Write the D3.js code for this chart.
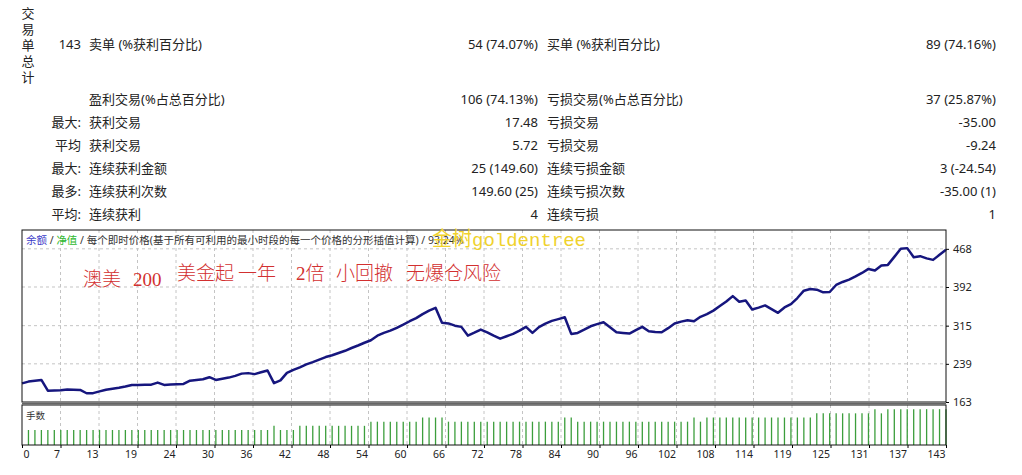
<!DOCTYPE html>
<html>
<head>
<meta charset="utf-8">
<script src="https://cdn.jsdelivr.net/npm/d3@7"></script>
<style>
  body { margin: 0; background: #fff; }
  svg text { font-family: "Noto Sans", "Noto Sans CJK SC", sans-serif; }
</style>
</head>
<body>
<div id="chart"></div>
<script>
// balance after each trade (index 0 = deposit)
var balance = [
  200, 203.6, 205.2, 207, 185.6, 185.8, 186.2, 187.7, 187.4, 187,
  180.4, 180.6, 184.2, 187.5, 189.6, 191.5, 193.7, 197, 196.8, 197.2,
  197.5, 201.7, 197, 197.8, 198.4, 199, 205.5, 207, 208.4, 212.4,
  207, 209.2, 211.6, 215, 219.5, 220.5, 218.5, 222.2, 225.7, 200.5,
  206, 221, 227, 232, 238, 242.5, 247.5, 252.5, 256, 260.5,
  265, 270.5, 275.5, 281, 286, 295, 300.6, 305, 310.6, 317,
  323.8, 330, 338, 345, 350.6, 320.6, 319.5, 315, 312.6, 295.2,
  301, 307.2, 301.8, 295, 289.2, 294, 298.6, 305, 312.6, 300.6,
  312, 319, 324.5, 328, 331.8, 298.6, 300.6, 307, 313.8, 318,
  321.8, 312, 301.8, 300.5, 299.2, 306, 312.6, 303.8, 302.5, 301.8,
  310, 319.2, 323, 325.8, 323.8, 332.6, 338, 345, 354, 363,
  373.9, 362.7, 365.3, 347.2, 351, 355.3, 348, 340.6, 351.3, 357.9,
  370, 384.7, 388, 386.7, 381.3, 382, 396, 402, 406.7, 413,
  420, 428, 424.8, 434.8, 436, 452, 468, 469.4, 451.4, 453.4,
  449, 446, 456, 466
];

// lot size of trades 1..143
var lots = [
  0.04, 0.04, 0.04, 0.04, 0.04, 0.04, 0.04, 0.04, 0.04, 0.04,
  0.04, 0.04, 0.04, 0.04, 0.04, 0.04, 0.04, 0.04, 0.04, 0.04,
  0.04, 0.04, 0.04, 0.04, 0.04, 0.04, 0.04, 0.04, 0.04, 0.04,
  0.04, 0.04, 0.04, 0.04, 0.04, 0.04, 0.04, 0.04, 0.05, 0.04,
  0.04, 0.04, 0.05, 0.05, 0.05, 0.05, 0.05, 0.05, 0.05, 0.05,
  0.05, 0.05, 0.05, 0.06, 0.06, 0.06, 0.06, 0.06, 0.06, 0.06,
  0.06, 0.07, 0.07, 0.07, 0.07, 0.06, 0.06, 0.06, 0.06, 0.06,
  0.06, 0.06, 0.06, 0.06, 0.06, 0.06, 0.06, 0.06, 0.06, 0.06,
  0.06, 0.06, 0.06, 0.07, 0.07, 0.06, 0.06, 0.06, 0.06, 0.06,
  0.06, 0.06, 0.06, 0.06, 0.06, 0.06, 0.06, 0.06, 0.06, 0.06,
  0.06, 0.06, 0.06, 0.07, 0.06, 0.07, 0.07, 0.07, 0.07, 0.07,
  0.07, 0.07, 0.07, 0.07, 0.07, 0.07, 0.07, 0.07, 0.07, 0.07,
  0.07, 0.07, 0.08, 0.08, 0.08, 0.08, 0.08, 0.08, 0.08, 0.08,
  0.08, 0.09, 0.08, 0.09, 0.09, 0.09, 0.09, 0.09, 0.09, 0.09,
  0.09, 0.09, 0.09
];

var xTickLabels = ["0", "7", "13", "19", "24", "30", "36", "42", "48", "54", "60", "66", "72",
  "78", "84", "90", "96", "102", "108", "114", "119", "125", "131", "137", "143"];
var yTicks = [163, 239, 315, 392, 468];

// report table
var sideTitle = ["交", "易", "单", "总", "计"];
var rowLead = ["143", "", "最大:", "平均", "最大:", "最多:", "平均:"];
var rowLabelL = ["卖单 (%获利百分比)", "盈利交易(%占总百分比)", "获利交易", "获利交易", "连续获利金额", "连续获利次数", "连续获利"];
var rowValueL = ["54 (74.07%)", "106 (74.13%)", "17.48", "5.72", "25 (149.60)", "149.60 (25)", "4"];
var rowLabelR = ["买单 (%获利百分比)", "亏损交易(%占总百分比)", "亏损交易", "亏损交易", "连续亏损金额", "连续亏损次数", "连续亏损"];
var rowValueR = ["89 (74.16%)", "37 (25.87%)", "-35.00", "-9.24", "3 (-24.54)", "-35.00 (1)", "1"];

var W = 1022, H = 475;
var L = 22, R = 946, T = 230, B = 402, VT = 405, VB = 445;
var rowY = [44, 99, 122, 145, 168, 191, 214];

var svg = d3.select("#chart").append("svg")
    .attr("width", W)
    .attr("height", H);

// ---- table ----
svg.selectAll(".side").data(sideTitle).enter().append("text")
    .attr("x", 28)
    .attr("y", function (d, i) { return 13 + i * 16; })
    .attr("dy", "0.35em")
    .attr("text-anchor", "middle")
    .style("font-size", "13px")
    .attr("fill", "#222")
    .text(function (d) { return d; });

var rows = svg.selectAll(".row").data(rowY).enter().append("g")
    .attr("transform", function (d) { return "translate(0," + d + ")"; })
    .style("font-size", "13px")
    .attr("fill", "#222");
rows.append("text").attr("x", 81).attr("dy", "0.35em").attr("text-anchor", "end")
    .text(function (d, i) { return rowLead[i]; });
rows.append("text").attr("x", 89).attr("dy", "0.35em")
    .text(function (d, i) { return rowLabelL[i]; });
rows.append("text").attr("x", 538).attr("dy", "0.35em").attr("text-anchor", "end")
    .text(function (d, i) { return rowValueL[i]; });
rows.append("text").attr("x", 547).attr("dy", "0.35em")
    .text(function (d, i) { return rowLabelR[i]; });
rows.append("text").attr("x", 996).attr("dy", "0.35em").attr("text-anchor", "end")
    .text(function (d, i) { return rowValueR[i]; });

// ---- scales ----
var x = d3.scaleLinear().domain([0, 143]).range([L, R]);
var y = d3.scaleLinear().domain([163, 505.5]).range([B, T]);
var v = d3.scaleLinear().domain([0.004, 0.1]).range([VB, VT]);
var tickPos = xTickLabels.map(function (d, k) { return k * 143 / 24; });

// grid
var grid = svg.append("g")
    .attr("stroke", "#c4c4c4")
    .attr("stroke-dasharray", "3,3");
grid.selectAll(".gx").data(tickPos.slice(1, -1)).enter().append("line")
    .attr("x1", function (d) { return x(d); })
    .attr("x2", function (d) { return x(d); })
    .attr("y1", T).attr("y2", B);
grid.selectAll(".gv").data(tickPos.slice(1, -1)).enter().append("line")
    .attr("x1", function (d) { return x(d); })
    .attr("x2", function (d) { return x(d); })
    .attr("y1", VT).attr("y2", VB);
grid.selectAll(".gy").data(yTicks.slice(1)).enter().append("line")
    .attr("x1", L).attr("x2", R)
    .attr("y1", function (d) { return y(d); })
    .attr("y2", function (d) { return y(d); });

// header
var head = svg.append("text")
    .attr("x", 26)
    .attr("y", 243.5)
    .style("font-size", "10.5px")
    .attr("fill", "#333");
head.append("tspan").attr("fill", "#3a3ac8").text("余额");
head.append("tspan").text(" / ");
head.append("tspan").attr("fill", "#2eb82e").text("净值");
head.append("tspan").text(" / 每个即时价格(基于所有可利用的最小时段的每一个价格的分形插值计算) / 93.24%");

// volume bars
svg.append("g").selectAll("line").data(lots).enter().append("line")
    .attr("x1", function (d, i) { return x(i + 1); })
    .attr("x2", function (d, i) { return x(i + 1); })
    .attr("y1", VB)
    .attr("y2", function (d) { return v(d); })
    .attr("stroke", "#3c9e3c")
    .attr("stroke-width", 1.3);

svg.append("text")
    .attr("x", 26).attr("y", 416).attr("dy", "0.35em")
    .style("font-size", "9.5px")
    .attr("fill", "#333")
    .text("手数");

// balance line
var line = d3.line()
    .x(function (d, i) { return x(i); })
    .y(function (d) { return y(d); });
svg.append("path")
    .datum(balance)
    .attr("d", line)
    .attr("fill", "none")
    .attr("stroke", "#16167e")
    .attr("stroke-width", 2.5)
    .attr("stroke-linejoin", "round");

// frames
svg.append("rect")
    .attr("x", L).attr("y", T).attr("width", R - L).attr("height", B - T)
    .attr("fill", "none").attr("stroke", "#111");
svg.append("line")
    .attr("x1", L).attr("x2", R).attr("y1", B + 1.5).attr("y2", B + 1.5)
    .attr("stroke", "#666").attr("stroke-width", 1.5);
svg.append("rect")
    .attr("x", L).attr("y", VT).attr("width", R - L).attr("height", VB - VT)
    .attr("fill", "none").attr("stroke", "#111");

// axes
var yAxis = svg.append("g")
    .attr("transform", "translate(" + R + ",0)")
    .call(d3.axisRight(y).tickValues(yTicks).tickSize(3).tickPadding(4));
yAxis.select(".domain").remove();
yAxis.selectAll("text").style("font-size", "11px").attr("fill", "#222");

var xAxis = svg.append("g")
    .attr("transform", "translate(0," + VB + ")")
    .call(d3.axisBottom(x).tickValues(tickPos).tickSize(3).tickPadding(3)
        .tickFormat(function (d, i) { return xTickLabels[i]; }));
xAxis.select(".domain").remove();
xAxis.selectAll("text")
    .style("font-size", "10.5px")
    .attr("fill", "#222")
    .attr("text-anchor", function (d, i) { return i === 0 ? "start" : "end"; })
    .attr("dx", function (d, i) { return i === 0 ? 1 : -1; });

// overlay notes
svg.append("text")
    .attr("x", 432).attr("y", 246)
    .attr("fill", "#f0d22c")
    .call(function (t) {
        t.append("tspan").style("font-size", "20px").text("金树");
        t.append("tspan").style("font-family", "'Liberation Mono', monospace")
            .style("font-size", "19px").text("goldentree");
    });

var red = svg.append("g")
    .attr("fill", "#d23030")
    .style("font-size", "19px")
    .style("font-weight", "300");
red.append("text").attr("x", 83).attr("y", 286).text("澳美");
red.append("text").attr("x", 133).attr("y", 286)
    .style("font-family", "'Liberation Serif', serif").text("200");
var words = ["美金起", "一年", "2倍", "小回撤", "无爆仓风险"];
var wordX = [177, 238, 296, 336, 406];
red.selectAll(".w").data(words).enter().append("text")
    .attr("x", function (d, i) { return wordX[i]; })
    .attr("y", 280)
    .style("font-family", "'Liberation Serif', 'Noto Sans CJK SC', serif")
    .text(function (d) { return d; });
</script>
</body>
</html>
